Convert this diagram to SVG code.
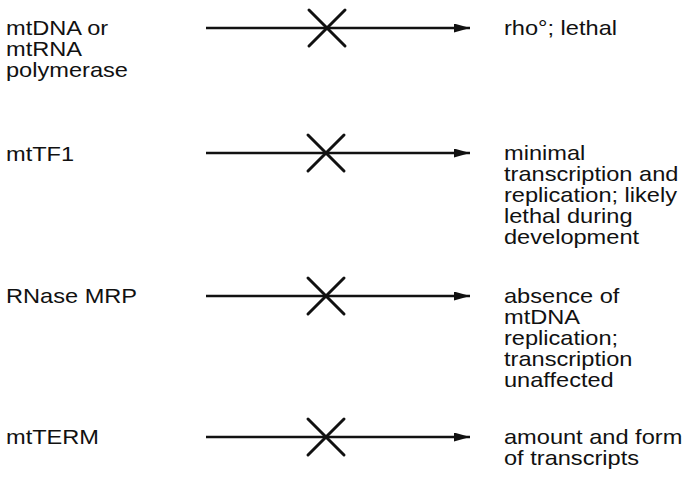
<svg xmlns="http://www.w3.org/2000/svg" width="686" height="486" viewBox="0 0 686 486">
<style>
text{font-family:"Liberation Sans",Arial,sans-serif;font-size:20px;fill:#111}
.ln{stroke:#111;stroke-width:2.4;fill:none}
.x{stroke:#111;stroke-width:3;fill:none;stroke-linecap:round}
</style>
<defs>
<marker id="ah" viewBox="0 0 16 9" refX="16" refY="4.5" markerWidth="16" markerHeight="9" markerUnits="userSpaceOnUse" orient="auto">
<path d="M0,0 L16,4.5 L0,9 z" fill="#111"/>
</marker>
</defs>
<rect width="686" height="486" fill="#fff"/>
<g id="n1">
<g transform="translate(6,0) scale(1.18,1)"><text x="0" y="35">mtDNA or</text><text x="0" y="56">mtRNA</text><text x="0" y="77">polymerase</text></g>
</g>
<g id="r1"><g transform="translate(504,0) scale(1.18,1)"><text x="0" y="35">rho°; lethal</text></g></g>
<g id="n2"><g transform="translate(6,0) scale(1.18,1)"><text x="0" y="161">mtTF1</text></g></g>
<g id="r2"><g transform="translate(504,0) scale(1.18,1)">
<text x="0" y="160">minimal</text><text x="0" y="181">transcription and</text><text x="0" y="202">replication; likely</text><text x="0" y="223">lethal during</text><text x="0" y="244">development</text></g></g>
<g id="n3"><g transform="translate(6,0) scale(1.18,1)"><text x="0" y="303">RNase MRP</text></g></g>
<g id="r3"><g transform="translate(504,0) scale(1.18,1)">
<text x="0" y="303">absence of</text><text x="0" y="324">mtDNA</text><text x="0" y="345">replication;</text><text x="0" y="366">transcription</text><text x="0" y="387">unaffected</text></g></g>
<g id="n4"><g transform="translate(6,0) scale(1.18,1)"><text x="0" y="444">mtTERM</text></g></g>
<g id="r4"><g transform="translate(504,0) scale(1.18,1)">
<text x="0" y="444">amount and form</text><text x="0" y="465">of transcripts</text></g></g>
<g id="connectors">
<line class="ln" x1="206" y1="28" x2="470" y2="28" marker-end="url(#ah)"/>
<line class="ln" x1="206" y1="153" x2="470" y2="153" marker-end="url(#ah)"/>
<line class="ln" x1="206" y1="296" x2="470" y2="296" marker-end="url(#ah)"/>
<line class="ln" x1="206" y1="437" x2="470" y2="437" marker-end="url(#ah)"/>
<path class="x" d="M309,10 L345,46 M345,10 L309,46"/>
<path class="x" d="M308,135 L344,171 M344,135 L308,171"/>
<path class="x" d="M308,278 L344,314 M344,278 L308,314"/>
<path class="x" d="M308,419 L344,455 M344,419 L308,455"/>
</g>
</svg>
